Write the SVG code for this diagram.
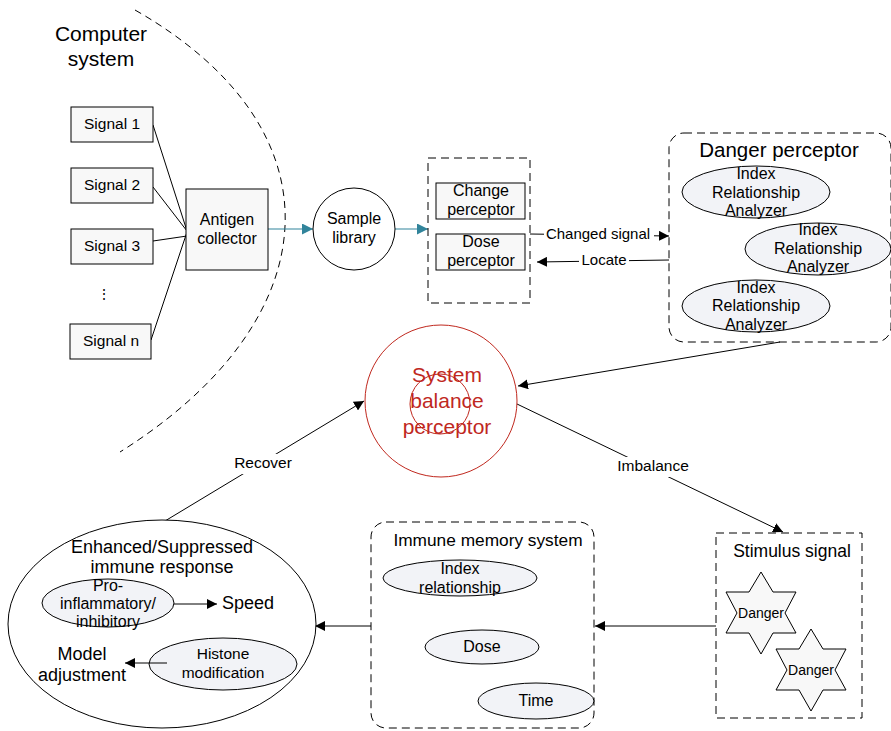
<svg xmlns="http://www.w3.org/2000/svg" width="891" height="731" viewBox="0 0 891 731">
<defs>
<style>
text{font-family:"Liberation Sans",Arial,sans-serif;fill:#000;text-anchor:middle;dominant-baseline:middle}
.box{fill:#f8f8f8;stroke:#000;stroke-width:1}
.ell{fill:#f2f3f7;stroke:#000;stroke-width:1}
.dash{fill:none;stroke:#000;stroke-width:1;stroke-dasharray:8,5}
.ln{fill:none;stroke:#000;stroke-width:1}
.teal{fill:none;stroke:#31849b;stroke-width:1.2}
.s14{font-size:14px}
.s15{font-size:15.5px}
.s16{font-size:16px}
.s18{font-size:18px}
.red{fill:#c0281e}
</style>
<marker id="ah" viewBox="0 0 10 10" refX="10" refY="5" markerWidth="10" markerHeight="10" markerUnits="userSpaceOnUse" orient="auto"><path d="M0,0L10,5L0,10z" fill="#000"/></marker>
<marker id="aht" viewBox="0 0 10 10" refX="10" refY="5" markerWidth="11" markerHeight="11" markerUnits="userSpaceOnUse" orient="auto"><path d="M0,0L10,5L0,10z" fill="#31849b"/></marker>
</defs>

<g id="computer-system">
<path class="ln" d="M135,10 C345,130 330,320 120,452" stroke-dasharray="7,5"/>
<text x="101" y="35" font-size="21">Computer</text>
<text x="101" y="60" font-size="21">system</text>
</g>

<g id="connectors">
<line class="ln" x1="153" y1="125" x2="187" y2="231"/>
<line class="ln" x1="153" y1="187" x2="187" y2="231"/>
<line class="ln" x1="153" y1="241" x2="187" y2="236"/>
<line class="ln" x1="151" y1="340" x2="187" y2="232"/>
<line class="teal" x1="268" y1="229" x2="313" y2="229" marker-end="url(#aht)"/>
<line class="teal" x1="395" y1="229" x2="428" y2="229" marker-end="url(#aht)"/>
<line class="ln" x1="530" y1="234" x2="669" y2="236" marker-end="url(#ah)"/>
<line class="ln" x1="669" y1="260" x2="537" y2="262" marker-end="url(#ah)"/>
<line class="ln" x1="780" y1="342" x2="518" y2="386" marker-end="url(#ah)"/>
<line class="ln" x1="160" y1="524" x2="364" y2="401" marker-end="url(#ah)"/>
<line class="ln" x1="517" y1="404" x2="783" y2="532" marker-end="url(#ah)"/>
<line class="ln" x1="716" y1="626" x2="595" y2="626" marker-end="url(#ah)"/>
<line class="ln" x1="371" y1="626" x2="315" y2="626" marker-end="url(#ah)"/>
<rect x="544" y="226" width="110" height="18" fill="#fff"/>
<text x="598" y="235" font-size="15">Changed signal</text>
<rect x="579" y="252" width="50" height="18" fill="#fff"/>
<text x="604" y="261" font-size="15">Locate</text>
<rect x="230" y="454" width="66" height="20" fill="#fff"/>
<text class="s15" x="263" y="464">Recover</text>
<rect x="614" y="457" width="78" height="20" fill="#fff"/>
<text class="s15" x="653" y="467">Imbalance</text>
</g>

<g id="signal-1"><rect class="box" x="71" y="107" width="82" height="35"/><text class="s15" x="112" y="125">Signal 1</text></g>
<g id="signal-2"><rect class="box" x="71" y="168" width="82" height="35"/><text class="s15" x="112" y="186">Signal 2</text></g>
<g id="signal-3"><rect class="box" x="71" y="229" width="82" height="35"/><text class="s15" x="112" y="247">Signal 3</text></g>
<g id="dots"><text class="s14" x="104" y="295">⋮</text></g>
<g id="signal-n"><rect class="box" x="70" y="324" width="81" height="35"/><text class="s15" x="111" y="342">Signal n</text></g>

<g id="antigen-collector"><rect class="box" x="186" y="189" width="82" height="81"/><text class="s16" x="227" y="221">Antigen</text><text class="s16" x="227" y="240">collector</text></g>

<g id="sample-library"><circle cx="354" cy="229" r="41" fill="#fff" stroke="#000"/><text class="s16" x="354" y="220">Sample</text><text class="s16" x="354" y="239">library</text></g>

<g id="perceptors">
<rect class="dash" x="428" y="158" width="102" height="145"/>
<rect class="box" x="436" y="183" width="89" height="36"/>
<text class="s16" x="481" y="192">Change</text><text class="s16" x="481" y="211">perceptor</text>
<rect class="box" x="436" y="234" width="89" height="36"/>
<text class="s16" x="481" y="243">Dose</text><text class="s16" x="481" y="262">perceptor</text>
</g>

<g id="danger-perceptor">
<rect class="dash" x="669" y="133" width="222" height="209" rx="15"/>
<text x="779" y="152" font-size="20.5">Danger perceptor</text>
<ellipse class="ell" cx="756" cy="192" rx="74" ry="26"/>
<text class="s16" x="756" y="175">Index</text><text class="s16" x="756" y="194">Relationship</text><text class="s16" x="756" y="212">Analyzer</text>
<ellipse class="ell" cx="818" cy="249" rx="73" ry="26"/>
<text class="s16" x="818" y="231">Index</text><text class="s16" x="818" y="250">Relationship</text><text class="s16" x="818" y="268">Analyzer</text>
<ellipse class="ell" cx="756" cy="306" rx="74" ry="26"/>
<text class="s16" x="756" y="289">Index</text><text class="s16" x="756" y="307">Relationship</text><text class="s16" x="756" y="326">Analyzer</text>
</g>

<g id="system-balance-perceptor">
<circle cx="441" cy="401" r="76" fill="#fff" stroke="#c0281e" stroke-width="1"/>
<circle cx="440" cy="404" r="30" fill="none" stroke="#c0281e" stroke-width="1"/>
<text class="red" x="447" y="376" font-size="21">System</text>
<text class="red" x="447" y="402" font-size="21">balance</text>
<text class="red" x="447" y="428" font-size="21">perceptor</text>
</g>

<g id="stimulus-signal">
<rect class="dash" x="716" y="533" width="146" height="185"/>
<text x="792" y="552" font-size="17.5">Stimulus signal</text>
<polygon class="box" points="761,572 773,592 796,592 785,613 796,633 773,633 761,654 749,633 726,633 737,613 726,592 749,592"/>
<text x="761" y="614" font-size="14">Danger</text>
<polygon class="box" points="811,629 823,649 846,649 835,670 846,690 823,690 811,711 799,690 776,690 787,670 776,649 799,649"/>
<text x="811" y="671" font-size="14">Danger</text>
</g>

<g id="immune-memory-system">
<rect class="dash" x="371" y="522" width="223" height="206" rx="15"/>
<text x="488" y="541" font-size="17.3">Immune memory system</text>
<ellipse class="ell" cx="460" cy="578" rx="77" ry="18"/>
<text class="s16" x="460" y="570">Index</text><text class="s16" x="460" y="589">relationship</text>
<ellipse class="ell" cx="482" cy="647" rx="57" ry="17"/>
<text class="s16" x="482" y="648">Dose</text>
<ellipse class="ell" cx="536" cy="701" rx="58" ry="18"/>
<text class="s16" x="536" y="702">Time</text>
</g>

<g id="immune-response">
<ellipse cx="162" cy="624" rx="154" ry="104" fill="#fff" stroke="#000"/>
<text class="s18" x="162" y="548">Enhanced/Suppressed</text>
<text class="s18" x="162" y="568">immune response</text>
<ellipse class="ell" cx="108" cy="603" rx="66" ry="24"/>
<text class="s16" x="108" y="587">Pro-</text><text class="s16" x="108" y="605">inflammatory/</text><text class="s16" x="108" y="623">inhibitory</text>
<line class="ln" x1="174" y1="604" x2="217" y2="604" marker-end="url(#ah)"/>
<text class="s18" x="248" y="604">Speed</text>
<text class="s18" x="82" y="655">Model</text>
<text class="s18" x="82" y="676">adjustment</text>
<ellipse class="ell" cx="223" cy="664" rx="74" ry="26"/>
<text class="s15" x="223" y="655">Histone</text><text class="s15" x="223" y="674">modification</text>
<line class="ln" x1="167" y1="663" x2="125" y2="663" marker-end="url(#ah)"/>
</g>
</svg>
